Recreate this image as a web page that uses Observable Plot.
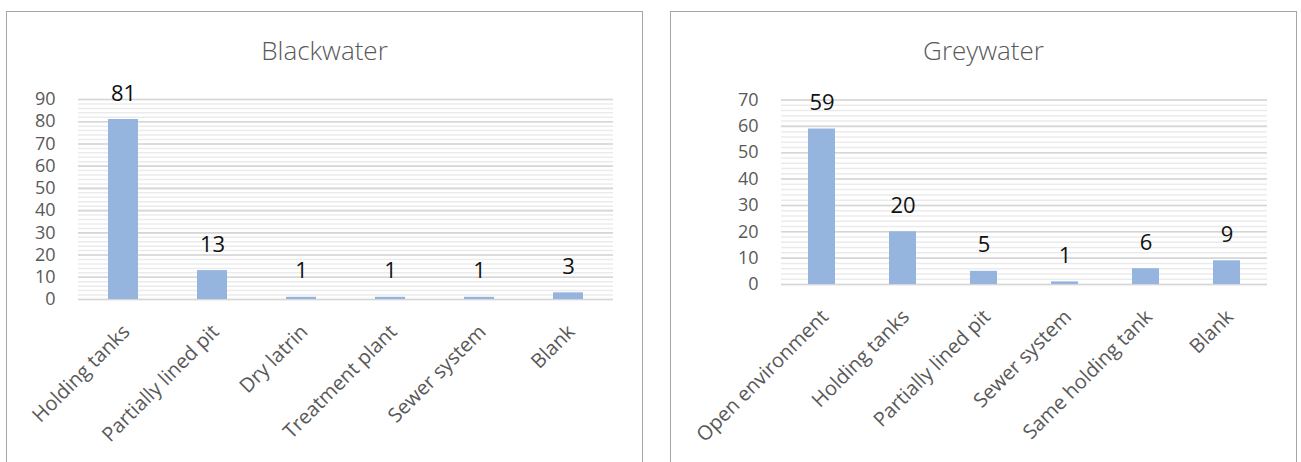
<!DOCTYPE html>
<html>
<head>
<meta charset="utf-8">
<script src="https://cdn.jsdelivr.net/npm/d3@7"></script>
<script src="https://cdn.jsdelivr.net/npm/@observablehq/plot@0.6"></script>
<style>
  html, body { margin: 0; padding: 0; background: #fff; }
  body { width: 1301px; height: 462px; overflow: hidden; position: relative; font-family: "Open Sans", sans-serif; }
  .panel { position: absolute; border: 1px solid #a6a6a6; background: #fff; overflow: hidden; }
  .title { position: absolute; left: 0; right: 0; top: 23px; line-height: 30px; text-align: center;
           font-size: 26px; color: #595959; font-family: "Open Sans", sans-serif; font-weight: 300; }
  .chart { position: absolute; left: 0; top: 48px; }
</style>
</head>
<body>
<div class="panel" id="p1" style="left:6px; top:11px; width:635px; height:470px;">
  <div class="title">Blackwater</div>
  <div class="chart" id="c1"></div>
</div>
<div class="panel" id="p2" style="left:670px; top:11px; width:625px; height:470px;">
  <div class="title">Greywater</div>
  <div class="chart" id="c2"></div>
</div>
<script>
const bwCategories = ["Holding tanks", "Partially lined pit", "Dry latrin", "Treatment plant", "Sewer system", "Blank"];
const bwValues = [81, 13, 1, 1, 1, 3];
const bwTicks = [0, 10, 20, 30, 40, 50, 60, 70, 80, 90];

const gwCategories = ["Open environment", "Holding tanks", "Partially lined pit", "Sewer system", "Same holding tank", "Blank"];
const gwValues = [59, 20, 5, 1, 6, 9];
const gwTicks = [0, 10, 20, 30, 40, 50, 60, 70];

function makeChart(cats, vals, ticks, opts) {
  const data = cats.map((c, i) => ({cat: c, v: vals[i]}));
  const ymax = ticks[ticks.length - 1];
  const minor = d3.range(0, ymax + 0.001, 2);
  return Plot.plot({
    width: opts.width,
    height: 400,
    marginLeft: opts.ml,
    marginRight: opts.mr,
    marginTop: opts.mt,
    marginBottom: opts.mb,
    style: {fontFamily: "Open Sans, sans-serif", background: "transparent", overflow: "visible"},
    x: {domain: cats, paddingInner: opts.pi, paddingOuter: opts.pi / 2, axis: null},
    y: {domain: [0, ymax], axis: null},
    marks: [
      Plot.ruleY(minor, {stroke: "#ebebeb", strokeWidth: 1.5}),
      Plot.ruleY(ticks, {stroke: "#d6d6d6", strokeWidth: 1.6}),
      Plot.barY(data, {x: "cat", y: "v", fill: "#95b5de"}),
      Plot.text(data, {x: "cat", y: "v", text: d => String(d.v), dy: -26, fontSize: 22, fill: "#111", lineAnchor: "middle"}),
      Plot.axisY(ticks, {tickSize: 0, tickPadding: 23, fontSize: 18, fill: "#595959", label: null}),
      Plot.axisX({tickSize: 0, tickPadding: 29, dx: 3, tickRotate: -45, fontSize: 20, fill: "#595959", label: null})
    ]
  });
}

document.getElementById("c1").appendChild(
  makeChart(bwCategories, bwValues, bwTicks, {width: 635, ml: 71, mr: 29, mt: 39, mb: 161, pi: 0.663})
);
document.getElementById("c2").appendChild(
  makeChart(gwCategories, gwValues, gwTicks, {width: 625, ml: 110, mr: 29, mt: 39.5, mb: 176, pi: 0.667})
);
</script>
</body>
</html>
